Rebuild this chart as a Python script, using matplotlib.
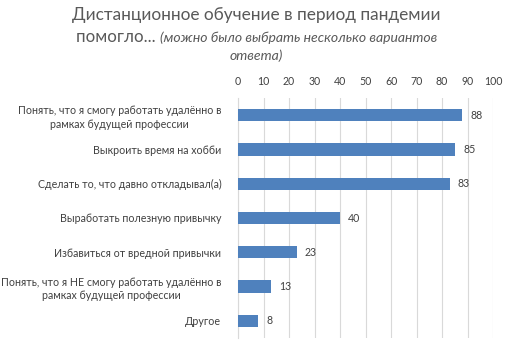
import matplotlib
matplotlib.use("Agg")
import matplotlib.pyplot as plt
from matplotlib.offsetbox import TextArea, HPacker, AnchoredOffsetbox

categories = [
    "Понять, что я смогу работать удалённо в\nрамках будущей профессии",
    "Выкроить время на хобби",
    "Сделать то, что давно откладывал(а)",
    "Выработать полезную привычку",
    "Избавиться от вредной привычки",
    "Понять, что я НЕ смогу работать удалённо в\nрамках будущей профессии",
    "Другое",
]
values = [88, 85, 83, 40, 23, 13, 8]
xticks = [0, 10, 20, 30, 40, 50, 60, 70, 80, 90, 100]

FONT = ["Lato", "DejaVu Sans"]
plt.rcParams['font.family'] = FONT
text_color = "#404040"
bar_color = "#4F81BD"

fig = plt.figure(figsize=(5.13, 3.49), dpi=100)
ax = fig.add_axes([238/513, 1-338/349, (493-238)/513, (338-98)/349])

y = list(range(len(categories)))
ax.barh(y, values, height=0.36, color=bar_color, zorder=3)
ax.set_ylim(len(categories)-0.5, -0.5)
ax.set_xlim(0, 100)
ax.set_xticks(xticks)
ax.xaxis.tick_top()
ax.tick_params(axis='x', length=0, pad=8, labelsize=7.6, labelcolor=text_color)
ax.set_yticks(y)
ax.set_yticklabels(categories, fontsize=7.7, color=text_color, linespacing=1.3)
ax.tick_params(axis='y', length=0, pad=12)
for lbl in ax.get_yticklabels():
    lbl.set_horizontalalignment('right')
    lbl.set_multialignment('center')

ax.grid(axis='x', color="#D9D9D9", linewidth=0.8, zorder=0)
for s in ['top', 'right', 'bottom']:
    ax.spines[s].set_visible(False)
ax.spines['left'].set_color("#D9D9D9")
ax.spines['left'].set_linewidth(0.8)

for yi, v in zip(y, values):
    ax.annotate(str(v), xy=(v, yi), xytext=(6, 0), textcoords='offset points',
                va='center', ha='left', fontsize=7.6, color=text_color)

fig.text(0.5, 1-15/349, "Дистанционное обучение в период пандемии",
         ha='center', va='center', fontsize=12.4, color="#595959")
t1 = "помогло... "
t2 = "(можно было выбрать несколько вариантов"
ta1 = TextArea(t1, textprops=dict(fontsize=12.2, color="#595959", family=FONT))
ta2 = TextArea(t2, textprops=dict(fontsize=10.1, color="#595959", style='italic', family=FONT))
pack = HPacker(children=[ta1, ta2], align='baseline', pad=0, sep=0)
ab = AnchoredOffsetbox(loc='center', child=pack, frameon=False,
                       bbox_to_anchor=(0.5, 1-37/349), bbox_transform=fig.transFigure,
                       pad=0, borderpad=0)
fig.add_artist(ab)
fig.text(0.5, 1-56/349, "ответа)", ha='center', va='center', fontsize=10.1,
         style='italic', color="#595959")

fig.savefig("out.png", dpi=100)
